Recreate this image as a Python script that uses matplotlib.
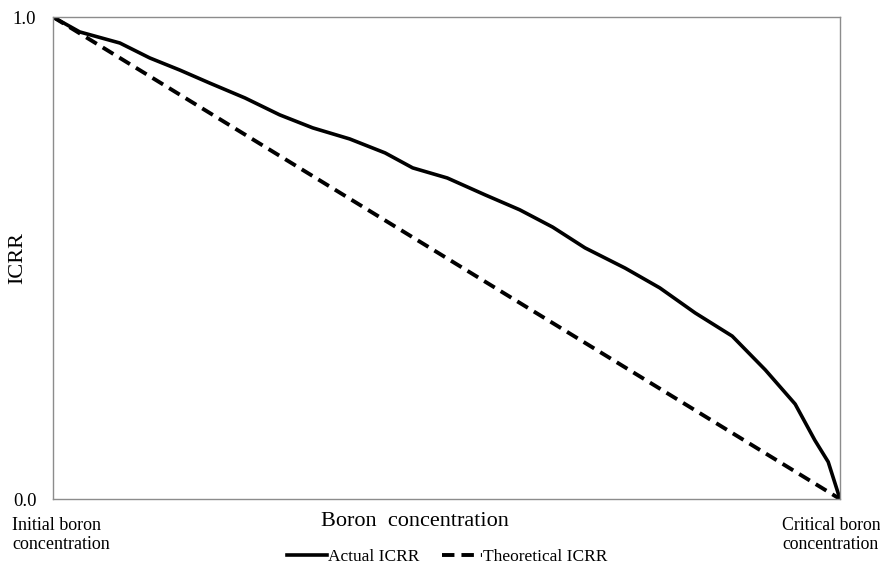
import numpy as np
import matplotlib.pyplot as plt

plt.rcParams['font.family'] = ['Liberation Serif', 'DejaVu Serif']

# normalised boron concentration (0 = initial, 1 = critical)
actual_x = [0.0, 0.034, 0.085, 0.123, 0.161, 0.199, 0.244, 0.288, 0.330, 0.377,
            0.422, 0.457, 0.501, 0.549, 0.593, 0.635, 0.676, 0.727, 0.771, 0.816,
            0.863, 0.905, 0.943, 0.968, 0.985, 1.0]
actual_icrr = [1.0, 0.969, 0.946, 0.915, 0.890, 0.863, 0.832, 0.797, 0.770, 0.747,
               0.718, 0.687, 0.666, 0.631, 0.600, 0.564, 0.521, 0.479, 0.438, 0.386,
               0.338, 0.268, 0.197, 0.122, 0.077, 0.0]
theory_x = [0.0, 1.0]
theory_icrr = [1.0, 0.0]

fig = plt.figure(figsize=(8.8, 5.67), dpi=100)
ax = fig.add_axes([53 / 880, 1 - 499 / 567, 787 / 880, 482 / 567])

ax.plot(actual_x, actual_icrr, color='black', lw=2.6, label='Actual ICRR')
ax.plot(theory_x, theory_icrr, color='black', lw=2.8, ls=(0, (3.2, 1.8)),
        label='Theoretical ICRR')

ax.set_xlim(0, 1)
ax.set_ylim(0, 1)
ax.set_xticks([])
ax.set_yticks([0, 1])
ax.set_yticklabels(['0.0', '1.0'], fontsize=13.5)
ax.tick_params(axis='y', length=0, pad=12)
for s in ax.spines.values():
    s.set_color('#8c8c8c')
    s.set_linewidth(1.0)

fig.text(18 / 880, 1 - 258 / 567, 'ICRR', rotation=90, fontsize=16,
         ha='center', va='center')
fig.text(415 / 880, 1 - 522 / 567, 'Boron  concentration', fontsize=16,
         ha='center', va='center')
fig.text(12 / 880, 1 - 535 / 567, 'Initial boron\nconcentration', fontsize=13,
         ha='left', va='center', linespacing=1.1)
fig.text(782 / 880, 1 - 535 / 567, 'Critical boron\nconcentration', fontsize=12.8,
         ha='left', va='center', linespacing=1.1)

fig.legend(loc='center', bbox_to_anchor=(447 / 880, 1 - 557 / 567), ncol=2,
           frameon=False, fontsize=12.5, handlelength=2.3, handletextpad=0.05,
           columnspacing=1.3)

fig.savefig('out.png', dpi=100)
